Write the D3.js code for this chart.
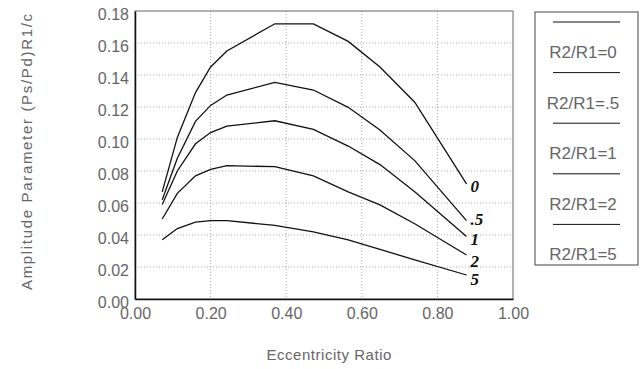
<!DOCTYPE html>
<html>
<head>
<meta charset="utf-8">
<script src="https://cdn.jsdelivr.net/npm/d3@7"></script>
<style>
  body { margin: 0; background: #fff; }
  text { font-family: 'Liberation Sans', Arial, sans-serif; fill: #666; }
</style>
</head>
<body>
<div id="chart"></div>
<script>
const eccentricity = [0.072, 0.112, 0.16, 0.2, 0.243, 0.37, 0.472, 0.564, 0.648, 0.74, 0.877]
const ratio0 = [0.067, 0.101, 0.129, 0.145, 0.155, 0.172, 0.172, 0.161, 0.145, 0.123, 0.072]
const ratio05 = [0.062, 0.088, 0.111, 0.121, 0.1275, 0.1354, 0.1306, 0.1198, 0.1056, 0.0865, 0.049]
const ratio1 = [0.059, 0.080, 0.097, 0.104, 0.108, 0.1114, 0.106, 0.0956, 0.084, 0.067, 0.039]
const ratio2 = [0.050, 0.066, 0.077, 0.081, 0.0833, 0.0827, 0.077, 0.067, 0.0588, 0.047, 0.0275]
const ratio5 = [0.037, 0.044, 0.048, 0.049, 0.049, 0.046, 0.042, 0.037, 0.031, 0.0245, 0.015]
const curveLabels = ['0', '.5', '1', '2', '5']
const legendLabels = ['R2/R1=0', 'R2/R1=.5', 'R2/R1=1', 'R2/R1=2', 'R2/R1=5']
const xTicks = [0, 0.2, 0.4, 0.6, 0.8, 1.0]
const yTicks = [0, 0.02, 0.04, 0.06, 0.08, 0.1, 0.12, 0.14, 0.16, 0.18]

const series = [ratio0, ratio05, ratio1, ratio2, ratio5]

const margin = { top: 11, left: 135, right: 127, bottom: 70 }
const width = 640 - margin.left - margin.right
const height = 369 - margin.top - margin.bottom

const svg = d3
  .select('#chart')
  .append('svg')
  .attr('width', 640)
  .attr('height', 369)

const g = svg
  .append('g')
  .attr('transform', 'translate(' + margin.left + ',' + margin.top + ')')

const xPositionScale = d3.scaleLinear().domain([0, 1]).range([0, width])
const yPositionScale = d3.scaleLinear().domain([0, 0.18]).range([height, 0])

// grid
g.append('g')
  .selectAll('line')
  .data(yTicks.slice(1, -1))
  .enter()
  .append('line')
  .attr('x1', 0)
  .attr('x2', width)
  .attr('y1', d => yPositionScale(d))
  .attr('y2', d => yPositionScale(d))
  .attr('stroke', '#aaa')
  .attr('stroke-dasharray', '1,2')

g.append('g')
  .selectAll('line')
  .data(xTicks.slice(1, -1))
  .enter()
  .append('line')
  .attr('y1', 0)
  .attr('y2', height)
  .attr('x1', d => xPositionScale(d))
  .attr('x2', d => xPositionScale(d))
  .attr('stroke', '#aaa')
  .attr('stroke-dasharray', '1,2')

// frame
g.append('rect')
  .attr('width', width)
  .attr('height', height)
  .attr('fill', 'none')
  .attr('stroke', '#666')
  .attr('stroke-width', 1)

const y_axis = d3.axisLeft(yPositionScale)
  .tickValues(yTicks)
  .tickFormat(d3.format('.2f'))
  .tickSize(0)
  .tickPadding(6)
g.append('g')
  .attr('class', 'axis y-axis')
  .call(y_axis)

const x_axis = d3.axisBottom(xPositionScale)
  .tickValues(xTicks)
  .tickFormat(d3.format('.2f'))
  .tickSize(0)
  .tickPadding(9)
g.append('g')
  .attr('class', 'axis x-axis')
  .attr('transform', 'translate(0,' + height + ')')
  .call(x_axis)

svg.selectAll('.axis path').attr('stroke', '#111').attr('stroke-width', 1.5)
svg.selectAll('.axis text')
  .attr('font-size', 16)
  .attr('font-family', "'Liberation Sans', Arial, sans-serif")
  .attr('fill', '#666')
svg.selectAll('.y-axis text').attr('dy', '0.5em')

// curves
const line = d3
  .line()
  .x((d, i) => xPositionScale(eccentricity[i]))
  .y(d => yPositionScale(d))

g.selectAll('.curve')
  .data(series)
  .enter()
  .append('path')
  .attr('class', 'curve')
  .attr('d', d => line(d))
  .attr('fill', 'none')
  .attr('stroke', '#111')
  .attr('stroke-width', 1.3)

// hand written labels at the ends (nudged a bit like the hand lettering)
const last = eccentricity.length - 1
g.selectAll('.curve-label')
  .data(series)
  .enter()
  .append('text')
  .attr('class', 'curve-label')
  .attr('x', xPositionScale(eccentricity[last]) + 4)
  .attr('y', function(d, i) {
    let nudge = 0
    if (i == 1) nudge = -4
    if (i == 3) nudge = 4
    if (i == 4) nudge = 2
    return yPositionScale(d[last]) + 8 + nudge
  })
  .text((d, i) => curveLabels[i])
  .style('font-family', "'Liberation Serif', serif")
  .style('font-style', 'italic')
  .style('font-weight', 'bold')
  .style('font-size', '17px')
  .style('fill', '#111')

// axis titles
svg.append('text')
  .attr('transform', 'translate(32,152) rotate(-90)')
  .attr('text-anchor', 'middle')
  .attr('font-size', 15)
  .attr('textLength', 276)
  .attr('lengthAdjust', 'spacing')
  .text('Amplitude  Parameter  (Ps/Pd)R1/c')

svg.append('text')
  .attr('x', margin.left + xPositionScale(0.513))
  .attr('y', 360)
  .attr('text-anchor', 'middle')
  .attr('font-size', 15)
  .attr('textLength', 125)
  .attr('lengthAdjust', 'spacing')
  .text('Eccentricity Ratio')

// legend
const legend = svg.append('g').attr('transform', 'translate(535,12)')
legend.append('rect')
  .attr('width', 103)
  .attr('height', 253)
  .attr('fill', 'none')
  .attr('stroke', '#444')

const legendRow = d3.scaleBand().domain(legendLabels).range([0, 253])

legend.selectAll('.legend-line')
  .data(legendLabels)
  .enter()
  .append('line')
  .attr('x1', 18)
  .attr('x2', 85)
  .attr('y1', d => legendRow(d) + 10)
  .attr('y2', d => legendRow(d) + 10)
  .attr('stroke', '#111')

legend.selectAll('.legend-text')
  .data(legendLabels)
  .enter()
  .append('text')
  .attr('x', 48)
  .attr('y', d => legendRow(d) + 46)
  .attr('text-anchor', 'middle')
  .attr('font-size', 17)
  .text(d => d)
</script>
</body>
</html>
